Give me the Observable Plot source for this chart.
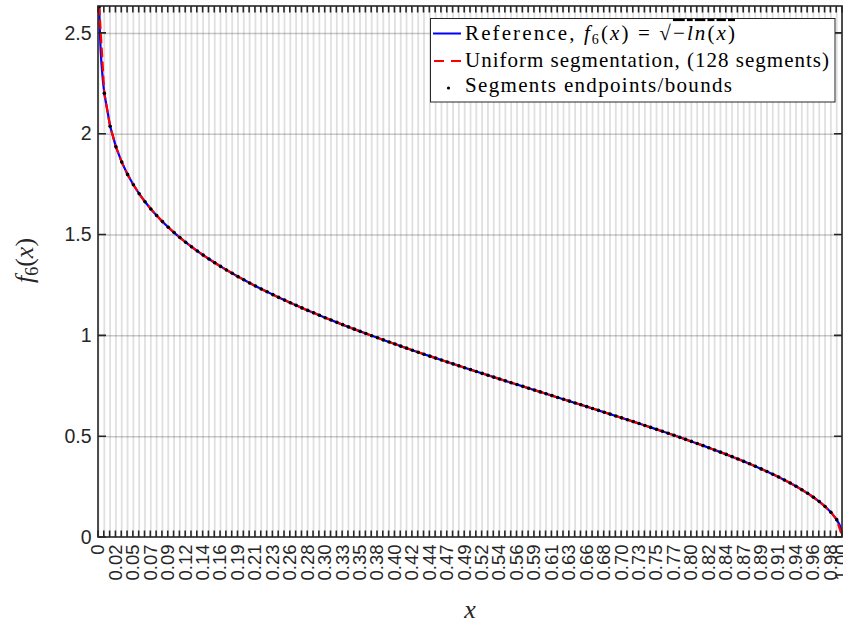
<!DOCTYPE html>
<html>
<head>
<meta charset="utf-8">
<script src="https://cdn.jsdelivr.net/npm/d3@7"></script>
<script src="https://cdn.jsdelivr.net/npm/@observablehq/plot@0.6"></script>
<style>
html, body { margin: 0; padding: 0; background: #fff; }
#chart svg { display: block; }
</style>
</head>
<body>
<div id="chart"></div>
<script>
// ---------------- data ----------------
const segments = 128;                 // uniform segmentation, 128 segments
const yMax = 2.6335;                  // top of the y axis
// f6 at the segment endpoints x = 1/128 ... 128/128
const segY = [
  2.2027, 2.0393, 1.9374, 1.8617, 1.8007, 1.7494, 1.7047, 1.6651, 1.6294, 1.5967,
  1.5666, 1.5385, 1.5123, 1.4876, 1.4642, 1.4420, 1.4208, 1.4006, 1.3811, 1.3625,
  1.3444, 1.3270, 1.3102, 1.2938, 1.2780, 1.2625, 1.2475, 1.2328, 1.2185, 1.2045,
  1.1908, 1.1774, 1.1643, 1.1514, 1.1387, 1.1263, 1.1141, 1.1020, 1.0902, 1.0785,
  1.0670, 1.0556, 1.0444, 1.0334, 1.0224, 1.0116, 1.0009, 0.9904, 0.9799, 0.9695,
  0.9593, 0.9491, 0.9390, 0.9290, 0.9191, 0.9092, 0.8994, 0.8897, 0.8801, 0.8704,
  0.8609, 0.8514, 0.8420, 0.8326, 0.8232, 0.8139, 0.8046, 0.7953, 0.7861, 0.7769,
  0.7677, 0.7585, 0.7494, 0.7402, 0.7311, 0.7220, 0.7129, 0.7038, 0.6947, 0.6856,
  0.6764, 0.6673, 0.6582, 0.6490, 0.6398, 0.6306, 0.6214, 0.6121, 0.6028, 0.5935,
  0.5841, 0.5747, 0.5652, 0.5556, 0.5460, 0.5364, 0.5266, 0.5168, 0.5069, 0.4968,
  0.4867, 0.4765, 0.4662, 0.4557, 0.4450, 0.4343, 0.4233, 0.4122, 0.4009, 0.3893,
  0.3775, 0.3654, 0.3530, 0.3403, 0.3273, 0.3137, 0.2998, 0.2852, 0.2700, 0.2540,
  0.2371, 0.2191, 0.1996, 0.1782, 0.1540, 0.1255, 0.0886, 0
];
// first (clipped) endpoint near x = 0
const startX = 0.000977, startY = 2.6335;
// extra reference-curve samples near the two ends
const refLeftX  = [0.001953, 0.002930, 0.003906, 0.005859];
const refLeftY  = [2.4977, 2.4151, 2.3548, 2.2671];
const refRightX = [0.99609, 0.99902];
const refRightY = [0.0626, 0.0313];

const yTicks = [0, 0.5, 1, 1.5, 2, 2.5];
const yTickLabels = ["0", "0.5", "1", "1.5", "2", "2.5"];
const xLabelEvery = 3;   // a label on every third grid line
const xTickLabels = ["0","0.02","0.05","0.07","0.09","0.12","0.14","0.16","0.19","0.21",
  "0.23","0.26","0.28","0.30","0.33","0.35","0.38","0.40","0.42","0.44",
  "0.47","0.49","0.52","0.54","0.56","0.59","0.61","0.63","0.66","0.68",
  "0.70","0.73","0.75","0.77","0.80","0.82","0.84","0.87","0.89","0.91",
  "0.94","0.96","0.98"];
const xEndLabel = "1.00";
const legendLabels = ["Reference, ", "Uniform segmentation, (128 segments)", "Segments endpoints/bounds"];
const colors = {ref: "#0000ff", seg: "#ff0000", dot: "#000000", axis: "#262626"};

// ---------------- derived tables ----------------
const gridX = d3.range(0, segments + 1).map(k => k / segments);
const segPts = [{x: startX, y: startY}].concat(segY.map((v, i) => ({x: (i + 1) / segments, y: v})));
const refPts = [{x: startX, y: startY}]
  .concat(refLeftX.map((v, i) => ({x: v, y: refLeftY[i]})))
  .concat(segPts.slice(1, -1))
  .concat(refRightX.map((v, i) => ({x: v, y: refRightY[i]})))
  .concat([segPts[segPts.length - 1]]);
const xTickData = xTickLabels.map((t, i) => ({v: i * xLabelEvery / segments, t}))
  .concat([{v: 1, t: xEndLabel}]);
const yTickData = yTicks.map((v, i) => ({v, t: yTickLabels[i]}));

const serif = "'Liberation Serif', 'Times New Roman', serif";
const sans = "'Liberation Sans', Arial, Helvetica, sans-serif";

// ticks + box
function frameAndTicks(index, scales, values, dims) {
  const {x, y} = scales;
  const L = dims.marginLeft, R = dims.width - dims.marginRight;
  const T = dims.marginTop, B = dims.height - dims.marginBottom;
  const g = d3.create("svg:g").attr("fill", "none").attr("stroke", colors.axis);
  const p = d3.path();
  for (const v of gridX) {
    const px = x(v);
    p.moveTo(px, B); p.lineTo(px, B - 6.5);
    p.moveTo(px, T); p.lineTo(px, T + 6.5);
  }
  for (const v of yTicks) {
    const py = y(v);
    p.moveTo(L, py); p.lineTo(L + 8, py);
    p.moveTo(R, py); p.lineTo(R - 8, py);
  }
  g.append("path").attr("d", p.toString()).attr("stroke-width", 1.6);
  g.append("rect").attr("x", L).attr("y", T).attr("width", R - L).attr("height", B - T).attr("stroke-width", 1.6);
  return g.node();
}

// axis labels and legend
function labelsAndLegend(index, scales, values, dims) {
  const L = dims.marginLeft, R = dims.width - dims.marginRight;
  const T = dims.marginTop, B = dims.height - dims.marginBottom;
  const g = d3.create("svg:g").attr("fill", colors.axis);

  // x label
  g.append("text").attr("x", (L + R) / 2).attr("y", 618)
    .attr("text-anchor", "middle").attr("font-family", serif).attr("font-style", "italic")
    .attr("font-size", 26).text("x");

  // y label f6(x)
  const yl = g.append("text").attr("transform", `translate(33,${(T + B) / 2 - 11}) rotate(-90)`)
    .attr("text-anchor", "middle").attr("font-family", serif).attr("font-size", 26);
  yl.append("tspan").attr("font-style", "italic").text("f");
  yl.append("tspan").attr("font-size", 18).attr("dy", 5).text("6");
  yl.append("tspan").attr("dy", -5).text("(");
  yl.append("tspan").attr("font-style", "italic").text("x");
  yl.append("tspan").text(")");

  // legend box
  const lx = 430.5, ly = 18.5, lw = 404.5, lh = 83.5;
  g.append("rect").attr("x", lx).attr("y", ly).attr("width", lw).attr("height", lh)
    .attr("fill", "#fff").attr("stroke", colors.axis).attr("stroke-width", 1);
  g.append("line").attr("x1", 433).attr("x2", 461).attr("y1", 33.5).attr("y2", 33.5)
    .attr("stroke", colors.ref).attr("stroke-width", 2);
  g.append("line").attr("x1", 434).attr("x2", 462).attr("y1", 61).attr("y2", 61)
    .attr("stroke", colors.seg).attr("stroke-width", 2).attr("stroke-dasharray", "10,7");
  g.append("circle").attr("cx", 448.5).attr("cy", 88).attr("r", 1.6).attr("fill", colors.dot);

  const tx = 465, fs = 21;
  const t1 = g.append("text").attr("x", tx).attr("y", 40).attr("text-anchor", "start")
    .attr("font-family", serif).attr("font-size", fs)
    .attr("fill", "#000").attr("textLength", 270).attr("lengthAdjust", "spacing");
  t1.append("tspan").text(legendLabels[0]);
  t1.append("tspan").attr("font-style", "italic").text("f");
  t1.append("tspan").attr("font-size", 14).attr("dy", 4).text("6");
  t1.append("tspan").attr("dy", -4).text("(");
  t1.append("tspan").attr("font-style", "italic").text("x");
  t1.append("tspan").text(") = √");
  const rad = t1.append("tspan").style("text-decoration", "overline");
  rad.append("tspan").text("−");
  rad.append("tspan").attr("font-style", "italic").text("ln");
  rad.append("tspan").text("(");
  rad.append("tspan").attr("font-style", "italic").text("x");
  rad.append("tspan").text(")");

  g.append("text").attr("x", tx).attr("y", 66.5).attr("text-anchor", "start")
    .attr("font-family", serif).attr("font-size", fs)
    .attr("fill", "#000").attr("textLength", 364).attr("lengthAdjust", "spacing").text(legendLabels[1]);
  g.append("text").attr("x", tx).attr("y", 92).attr("text-anchor", "start")
    .attr("font-family", serif).attr("font-size", fs)
    .attr("fill", "#000").attr("textLength", 267).attr("lengthAdjust", "spacing").text(legendLabels[2]);
  return g.node();
}

const chart = Plot.plot({
  width: 843,
  height: 626,
  marginLeft: 98,
  marginRight: 1,
  marginTop: 6,
  marginBottom: 89,
  x: {domain: [0, 1], axis: null},
  y: {domain: [0, yMax], axis: null},
  style: {background: "#fff", fontFamily: sans, overflow: "hidden"},
  marks: [
    Plot.ruleX(gridX, {stroke: colors.axis, strokeOpacity: 0.14, strokeWidth: 1.8}),
    Plot.ruleY(yTicks.slice(1), {stroke: colors.axis, strokeOpacity: 0.25, strokeWidth: 1.5}),
    Plot.line(refPts, {x: "x", y: "y", stroke: colors.ref, strokeWidth: 2.2, clip: true}),
    Plot.line(segPts, {x: "x", y: "y", stroke: colors.seg, strokeWidth: 2.2, strokeDasharray: "8,6", clip: true}),
    Plot.dot(segPts, {x: "x", y: "y", r: 1.8, fill: colors.dot, stroke: null, clip: true}),
    frameAndTicks,
    Plot.text(xTickData, {x: "v", text: "t", frameAnchor: "bottom", rotate: -90, textAnchor: "end",
      lineAnchor: "middle", dy: 7, fontSize: 18.5, fill: colors.axis}),
    Plot.text(yTickData, {y: "v", text: "t", frameAnchor: "left", textAnchor: "end",
      lineAnchor: "middle", dx: -7, fontSize: 19.5, fill: colors.axis}),
    labelsAndLegend
  ]
});
document.getElementById("chart").appendChild(chart);
</script>
</body>
</html>
